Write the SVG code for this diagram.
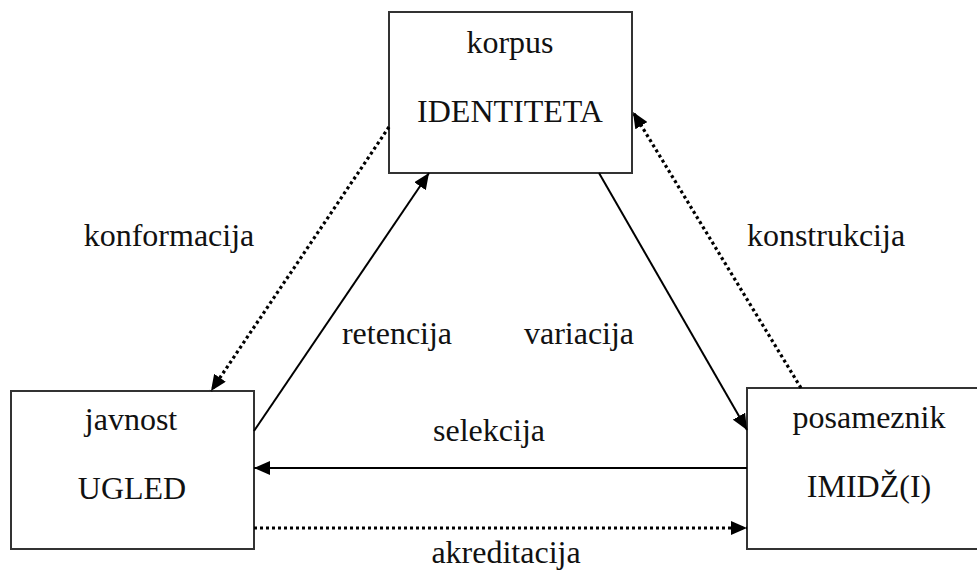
<svg xmlns="http://www.w3.org/2000/svg" width="977" height="572" viewBox="0 0 977 572">
  <style>
    .box { fill: #ffffff; stroke: #333333; stroke-width: 2; }
    .lbl { font-family: "Liberation Serif", "Times New Roman", serif; font-size: 32px; fill: #111111; text-anchor: middle; }
    .solid { fill: none; stroke: #000000; stroke-width: 2; }
    .dotted { fill: none; stroke: #000000; stroke-width: 3.2; stroke-dasharray: 3 3; }
  </style>
  <defs>
    <marker id="head" viewBox="0 0 16 14" refX="16" refY="7" markerWidth="16" markerHeight="14" markerUnits="userSpaceOnUse" orient="auto">
      <path d="M0,0 L16,7 L0,14 Z" fill="#000000"/>
    </marker>
  </defs>

  <!-- nodes -->
  <g id="korpus">
    <rect class="box" x="389" y="12" width="243" height="161"/>
    <text class="lbl" x="510" y="53">korpus</text>
    <text class="lbl" x="510" y="122">IDENTITETA</text>
  </g>
  <g id="javnost">
    <rect class="box" x="11" y="391" width="243" height="158"/>
    <text class="lbl" x="131" y="430">javnost</text>
    <text class="lbl" x="132" y="499">UGLED</text>
  </g>
  <g id="posameznik">
    <rect class="box" x="747" y="388" width="244" height="161"/>
    <text class="lbl" x="869" y="428">posameznik</text>
    <text class="lbl" x="869" y="497">IMIDŽ(I)</text>
  </g>

  <!-- connectors -->
  <g id="connectors">
    <line class="solid" x1="254" y1="431" x2="429" y2="173" marker-end="url(#head)"/>
    <line class="dotted" x1="389" y1="127" x2="211" y2="391" marker-end="url(#head)"/>
    <line class="solid" x1="599" y1="173" x2="747" y2="430" marker-end="url(#head)"/>
    <line class="dotted" x1="801" y1="388" x2="633" y2="112" marker-end="url(#head)"/>
    <line class="solid" x1="747" y1="468" x2="254" y2="468" marker-end="url(#head)"/>
    <line class="dotted" x1="254" y1="528" x2="747" y2="528" marker-end="url(#head)"/>
  </g>

  <!-- connector labels -->
  <g id="labels">
    <text class="lbl" x="169" y="246">konformacija</text>
    <text class="lbl" x="826" y="246">konstrukcija</text>
    <text class="lbl" x="397" y="344">retencija</text>
    <text class="lbl" x="579" y="344">variacija</text>
    <text class="lbl" x="489" y="441">selekcija</text>
    <text class="lbl" x="506" y="563">akreditacija</text>
  </g>
</svg>
